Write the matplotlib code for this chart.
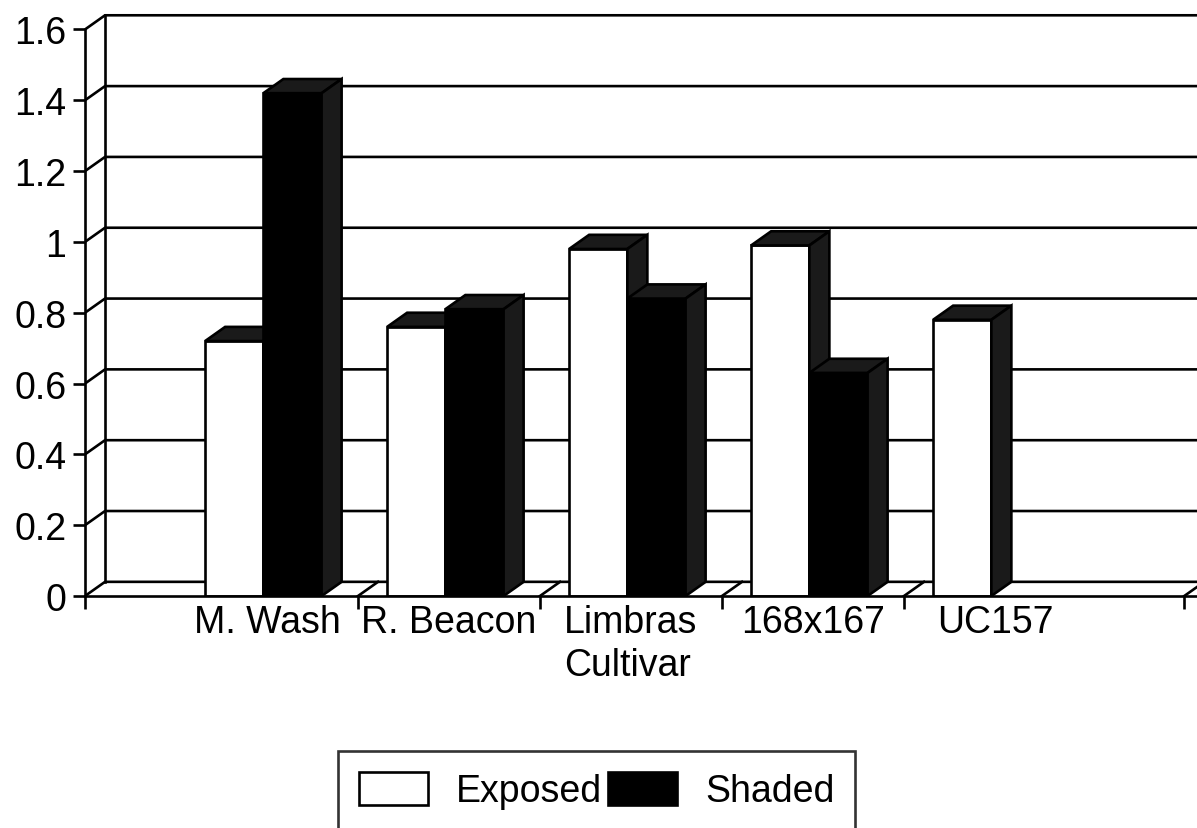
import matplotlib
matplotlib.use('Agg')
import matplotlib.pyplot as plt
from matplotlib.patches import Polygon, Patch

plt.rcParams['font.family'] = ['Liberation Sans', 'DejaVu Sans']

# data
cultivars = ['M. Wash', 'R. Beacon', 'Limbras', '168x167', 'UC157']
exposed = [0.72, 0.76, 0.98, 0.99, 0.78]
shaded = [1.42, 0.81, 0.84, 0.63, None]
y_ticks = [0, 0.2, 0.4, 0.6, 0.8, 1.0, 1.2, 1.4, 1.6]
y_labels = ['0', '0.2', '0.4', '0.6', '0.8', '1', '1.2', '1.4', '1.6']
sep_ticks = [-1, 0.5, 1.5, 2.5, 3.5, 5.04]

# pseudo-3D depth offset (data units)
DX, DY = 0.11, 0.04
XMIN, XMAX = -1, 5.11
YMAX = 1.686
LW = 1.9
SIDE = '#1a1a1a'
FS = 27


def bar3d(ax, x0, w, v, face, z):
    # front face
    ax.add_patch(Polygon([(x0, 0), (x0 + w, 0), (x0 + w, v), (x0, v)],
                         closed=True, facecolor=face, edgecolor='black', lw=LW, zorder=z))
    # top face
    ax.add_patch(Polygon([(x0, v), (x0 + DX, v + DY), (x0 + w + DX, v + DY), (x0 + w, v)],
                         closed=True, facecolor=SIDE, edgecolor='black', lw=LW, zorder=z))
    # right side face
    ax.add_patch(Polygon([(x0 + w, 0), (x0 + w + DX, DY), (x0 + w + DX, v + DY), (x0 + w, v)],
                         closed=True, facecolor=SIDE, edgecolor='black', lw=LW, zorder=z))


fig = plt.figure(figsize=(11.97, 8.29), dpi=100)
ax = fig.add_axes([85 / 1197, (829 - 597) / 829, (1197 - 85) / 1197, 597 / 829])
ax.set_xlim(XMIN, XMAX)
ax.set_ylim(0, YMAX)

# back wall, gridlines and floor
for y in y_ticks:
    ax.plot([XMIN, XMIN + DX, XMAX], [y, y + DY, y + DY], color='black', lw=LW, zorder=1,
            solid_capstyle='butt')
ax.plot([XMIN + DX, XMIN + DX], [DY, y_ticks[-1] + DY], color='black', lw=LW, zorder=1)
for t in sep_ticks[1:]:
    ax.plot([t, t + DX], [0, DY], color='black', lw=LW, zorder=1)

# bars
w = 0.32
for i, name in enumerate(cultivars):
    bar3d(ax, i - 0.34, w, exposed[i], 'white', 3 + 2 * i)
    if shaded[i] is not None:
        bar3d(ax, i - 0.02, w, shaded[i], 'black', 4 + 2 * i)

# axes
for s in ['top', 'right']:
    ax.spines[s].set_visible(False)
ax.spines['left'].set_bounds(0, 1.6)
ax.spines['left'].set_linewidth(LW)
ax.spines['bottom'].set_linewidth(LW)
ax.spines['left'].set_zorder(20)
ax.spines['bottom'].set_zorder(20)

ax.set_yticks(y_ticks)
ax.set_yticklabels(y_labels, fontsize=FS)
ax.tick_params(axis='y', direction='out', length=8.5, width=LW, pad=5)

ax.set_xticks(range(len(cultivars)))
ax.set_xticklabels(cultivars, fontsize=FS)
ax.set_xticks(sep_ticks, minor=True)
ax.tick_params(axis='x', which='major', length=0, pad=6)
ax.tick_params(axis='x', which='minor', direction='out', length=9, width=LW)

ax.set_xlabel('Cultivar', fontsize=FS)
ax.xaxis.set_label_coords(1.98, -0.085, transform=ax.get_xaxis_transform())

handles = [Patch(facecolor='white', edgecolor='black', lw=LW, label='Exposed'),
           Patch(facecolor='black', edgecolor='black', lw=LW, label='Shaded')]
leg = fig.legend(handles=handles, loc='upper left', bbox_to_anchor=(338 / 1197, 1 - 752 / 829),
                 ncol=2, fontsize=FS, frameon=True, fancybox=False, edgecolor='black',
                 handlelength=1.85, handleheight=1.0, handletextpad=0.75, columnspacing=0.15,
                 borderpad=0.55, borderaxespad=0)
leg.get_frame().set_linewidth(LW)

plt.savefig('out.png', dpi=100)
